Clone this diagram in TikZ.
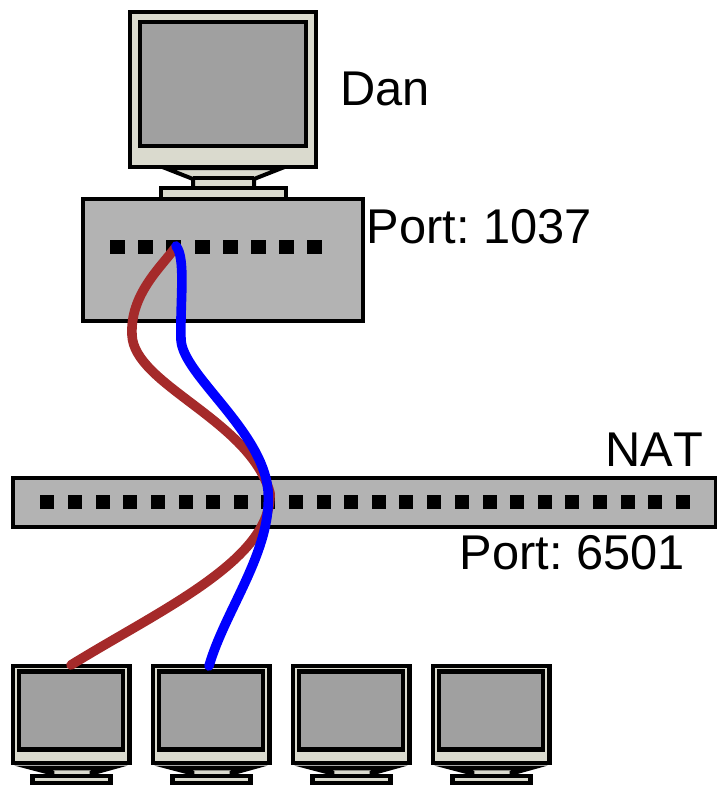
\documentclass[tikz,border=0pt]{standalone}
\usepackage{fontspec}
\setmainfont[Kerning=Off]{Liberation Sans}
\definecolor{bezel}{HTML}{DADACE}
\definecolor{screen}{HTML}{A0A0A0}
\definecolor{boxgray}{HTML}{B3B3B3}
\definecolor{cablered}{HTML}{A52A2A}
\tikzset{
  frame/.style={draw=black,line width=3pt,fill=bezel},
  smallframe/.style={draw=black,line width=3.6pt,fill=bezel},
  glass/.style={draw=black,line width=3pt,fill=screen},
  smallglass/.style={draw=black,line width=3.6pt,fill=screen},
  box/.style={draw=black,line width=3pt,fill=boxgray},
  port/.style={fill=black},
  cable/.style={line width=7.2pt,line cap=round,line join=round},
  lbl/.style={font=\fontsize{36.6pt}{40pt}\selectfont,inner sep=0pt,anchor=base west}
}
\newcommand{\smallmonitor}[1]{%
  \begin{scope}[xshift=#1*0.75pt]
    \path[smallframe] (33,768) -- (52,773) -- (52,777) -- (92,777) -- (92,773) -- (110,768) -- cycle;
    \path[smallframe] (32.5,776) rectangle (110.5,783);
    \path[smallframe] (13,666) rectangle (129.5,763);
    \path[smallglass] (19,671.5) rectangle (123,749.5);
  \end{scope}}
\begin{document}
\frenchspacing
\begin{tikzpicture}[x=0.75pt,y=-0.75pt]
  \useasboundingbox (0,0) rectangle (717,785);
  % Dan's computer
  \path[frame] (165,168) -- (193,179) -- (193,188) -- (254,188) -- (254,179) -- (282,168) -- cycle;
  \draw[line width=3pt] (193,178) -- (254,178);
  \path[frame] (160.5,188) rectangle (285.5,199);
  \path[frame] (130,11.5) rectangle (316,167);
  \path[glass] (140,22) rectangle (306,146);
  \path[box] (83,198.5) rectangle (363,321);
  \foreach \x in {110,138,166,195,223,251,279,307}
    \path[port] (\x,240) rectangle ++(15,14);
  % NAT
  \path[box] (13,478) rectangle (716,526.5);
  \foreach \x in {40,68,96,123,151,179,206,234,261,289,317,344,372,399,427,455,483,510,538,565,593,621,648,676}
    \path[port] (\x,495) rectangle ++(14,14);
  % small monitors
  \smallmonitor{0}
  \smallmonitor{140}
  \smallmonitor{280}
  \smallmonitor{420}
  % cables
  \coordinate (srcr) at (175,248);
  \coordinate (srcb) at (176,246);
  \coordinate (d1) at (71,665);
  \coordinate (d2) at (209,666);
  \draw[cable,cablered] (srcr) .. controls (160,268) and (130,295) .. (132,335)
     .. controls (134,385) and (250,420) .. (270,493)
     .. controls (272,560) and (160,610) .. (d1);
  \draw[cable,blue] (srcb) .. controls (186,258) and (180,300) .. (181,340)
     .. controls (183,375) and (262,430) .. (268,490)
     .. controls (273,550) and (225,610) .. (d2);
  % labels
  \node[lbl] (dan) at (340,105) {Dan};
  \node[lbl] (p1) at (366.5,243) {Port: 1037};
  \node[lbl] (natl) at (605,466) {NAT};
  \node[lbl] (p2) at (459.5,569) {Port: 6501};
\end{tikzpicture}
\end{document}
